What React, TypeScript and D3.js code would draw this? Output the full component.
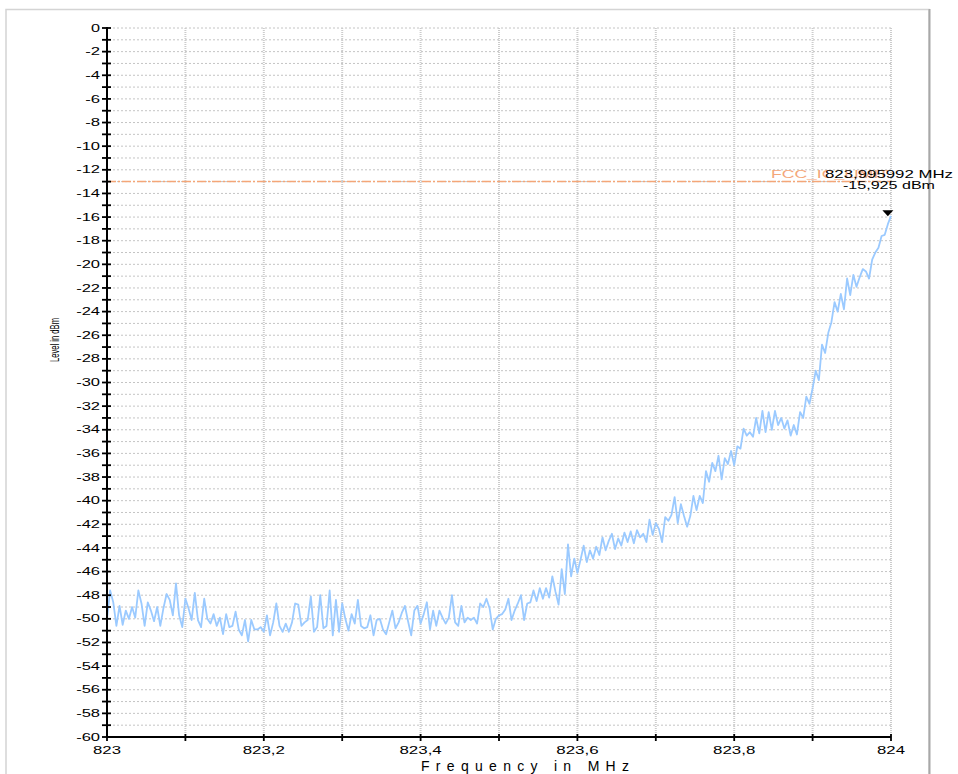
import React from "react";
import * as d3 from "d3";

// Sweep definition (spectrum analyzer trace points are evenly spaced in frequency)
const SWEEP_START_MHZ = 823;
const SWEEP_STOP_MHZ = 824;

// Trace levels in dBm (251 sweep points)
const levelDbm: number[] = [
  -50.0, -47.6, -48.6, -50.6, -48.9, -50.5, -49.3, -50.0, -49.0, -49.9,
  -47.6, -48.7, -50.6, -48.6, -49.3, -50.2, -49.0, -50.6, -49.1, -47.9,
  -48.4, -49.7, -47.0, -49.7, -50.7, -48.3, -49.1, -50.1, -47.8, -50.1,
  -50.7, -48.3, -50.0, -50.4, -49.6, -50.6, -49.9, -51.3, -49.6, -50.7,
  -50.6, -49.4, -50.9, -51.4, -50.1, -51.9, -50.1, -50.9, -50.9, -50.7,
  -51.1, -49.7, -51.4, -50.3, -48.7, -50.6, -51.1, -50.4, -51.1, -50.3,
  -48.7, -48.8, -50.6, -50.3, -50.1, -48.1, -51.1, -50.7, -48.0, -50.8,
  -50.6, -47.6, -51.4, -48.4, -51.1, -48.7, -50.0, -51.0, -49.6, -50.4,
  -48.4, -50.6, -50.8, -50.7, -49.7, -51.4, -50.1, -50.0, -50.9, -51.3,
  -50.3, -49.3, -50.8, -50.3, -49.5, -48.9, -50.2, -51.4, -49.3, -48.9,
  -50.4, -49.6, -48.6, -50.9, -49.3, -50.6, -49.3, -49.9, -50.4, -49.9,
  -48.0, -50.3, -50.6, -48.9, -50.3, -49.9, -50.1, -49.9, -50.4, -48.7,
  -49.0, -48.3, -49.1, -50.9, -50.0, -49.7, -49.6, -49.2, -48.3, -50.1,
  -49.3, -48.7, -48.0, -50.1, -48.7, -48.6, -47.6, -48.5, -47.4, -48.3,
  -47.4, -48.2, -46.4, -47.7, -48.8, -45.8, -47.9, -43.7, -46.4, -44.9,
  -46.1, -45.0, -43.8, -45.2, -44.2, -44.9, -43.9, -44.6, -43.1, -44.2,
  -43.4, -42.8, -44.1, -43.2, -43.8, -42.7, -43.5, -42.6, -43.6, -42.5,
  -43.1, -42.8, -43.5, -41.6, -42.9, -41.9, -42.4, -43.5, -41.4, -41.7,
  -41.2, -39.7, -41.9, -40.3, -41.3, -42.2, -41.3, -39.6, -40.8, -39.6,
  -40.2, -37.5, -38.4, -36.8, -37.5, -36.2, -38.2, -36.4, -36.9, -35.8,
  -37.0, -35.4, -35.6, -33.9, -34.5, -34.2, -34.6, -33.0, -34.3, -32.4,
  -34.2, -32.5, -34.0, -32.4, -33.6, -33.0, -33.9, -33.2, -34.5, -33.6,
  -34.4, -32.5, -33.0, -31.2, -31.8, -30.5, -29.0, -29.8, -26.8, -27.5,
  -25.8, -24.9, -23.2, -24.0, -22.5, -23.8, -21.2, -22.6, -20.9, -21.9,
  -21.1, -20.4, -20.6, -21.2, -19.6, -19.0, -18.6, -17.6, -17.5, -16.6,
  -15.9,
];

const xTickValues = [823, 823.1, 823.2, 823.3, 823.4, 823.5, 823.6, 823.7, 823.8, 823.9, 824];
const xLabelValues = [823, 823.2, 823.4, 823.6, 823.8, 824];
const yMinorTicks = d3.range(0, -61, -1);
const yLabelValues = d3.range(0, -61, -2);

const LIMIT_LEVEL = -13;
const LIMIT_NAME = "FCC_IC_LIMIT";
const MARKER_FREQ = 823.995992;
const MARKER_LEVEL = -15.925;
const MARKER_LINE1 = "823,995992 MHz";
const MARKER_LINE2 = "-15,925 dBm";
const X_TITLE = "Frequency in MHz";
const Y_TITLE = "Level in dBm";

const FONT = "'Liberation Sans', Arial, Helvetica, sans-serif";

function textWidth(s: string, digit: number): number {
  let w = 0;
  for (const c of s) {
    if (c >= "0" && c <= "9") w += digit;
    else if (c === ",") w += digit * 0.55;
    else if (c === "-") w += digit * 0.65;
    else if (c === " ") w += digit * 0.5;
    else w += digit * 1.05;
  }
  return w;
}

const fmt = (v: number) => String(+v.toFixed(1)).replace(".", ",");

export default function App() {
  const W = 958;
  const H = 774;
  const x = d3.scaleLinear().domain([SWEEP_START_MHZ, SWEEP_STOP_MHZ]).range([107, 891]);
  const y = d3.scaleLinear().domain([0, -60]).range([28, 737]);

  const n = levelDbm.length;
  const step = (SWEEP_STOP_MHZ - SWEEP_START_MHZ) / (n - 1);
  const points: [number, number][] = levelDbm.map((v, i) => [SWEEP_START_MHZ + i * step, v]);
  const line = d3
    .line<[number, number]>()
    .x((d) => x(d[0]))
    .y((d) => y(d[1]));

  const [x0, x1] = x.range();
  const [y0, y1] = y.range();
  const mx = x(MARKER_FREQ);
  const my = y(MARKER_LEVEL);
  const ly = y(LIMIT_LEVEL);

  return (
    <svg
      width={W}
      height={H}
      style={{ position: "absolute", left: 0, top: 0, background: "#fff" }}
      fontFamily={FONT}
    >
      {/* frame */}
      <rect x={6} y={9.5} width={923} height={800} fill="none" stroke="#d4d4d4" strokeWidth={1.5} />
      <line x1={929.5} x2={929.5} y1={9} y2={H} stroke="#a8a8a8" strokeWidth={2} />

      {/* horizontal grid */}
      {yMinorTicks.map((v) => (
        <line
          key={"hg" + v}
          x1={x0 + 2}
          x2={x1}
          y1={y(v)}
          y2={y(v)}
          stroke="#c4c4c4"
          strokeWidth={1}
          strokeDasharray="2,2"
        />
      ))}
      {/* vertical grid */}
      {xTickValues.slice(1).map((v) => (
        <line
          key={"vg" + v}
          x1={x(v)}
          x2={x(v)}
          y1={y0}
          y2={y1}
          stroke="#cccccc"
          strokeWidth={2}
          strokeDasharray="1,1"
        />
      ))}

      {/* limit line */}
      <line
        x1={x0}
        x2={x1}
        y1={ly}
        y2={ly}
        stroke="#f4a678"
        strokeWidth={1.5}
        strokeDasharray="9,2,2,2"
      />

      {/* trace */}
      <path d={line(points) || ""} fill="none" stroke="#9bcaff" strokeWidth={1.8} strokeLinejoin="round" />

      {/* y axis */}
      <line x1={x0} x2={x0} y1={y0 - 1} y2={y1} stroke="#000" strokeWidth={2} />
      {yMinorTicks.map((v) => (
        <line key={"yt" + v} x1={x0 - 5} x2={x0 + 4} y1={y(v)} y2={y(v)} stroke="#000" strokeWidth={1.8} />
      ))}
      {yLabelValues.map((v) => {
        const s = String(v);
        return (
          <text
            key={"yl" + v}
            x={100}
            y={y(v)}
            dy="0.36em"
            fontSize={10}
            textAnchor="end"
            textLength={textWidth(s, 9)}
            lengthAdjust="spacingAndGlyphs"
            fill="#000"
          >
            {s}
          </text>
        );
      })}

      {/* x axis */}
      <line x1={x0} x2={x1} y1={y1} y2={y1} stroke="#000" strokeWidth={1.8} />
      {xTickValues.map((v) => (
        <line key={"xt" + v} x1={x(v)} x2={x(v)} y1={y1 - 3} y2={y1 + 4} stroke="#000" strokeWidth={1.8} />
      ))}
      {xLabelValues.map((v) => {
        const s = fmt(v);
        return (
          <text
            key={"xl" + v}
            x={x(v)}
            y={754}
            fontSize={10}
            textAnchor="middle"
            textLength={textWidth(s, 9.3)}
            lengthAdjust="spacingAndGlyphs"
            fill="#000"
          >
            {s}
          </text>
        );
      })}

      {/* axis titles */}
      <text
        x={525}
        y={771}
        fontSize={14}
        textAnchor="middle"
        textLength={208}
        lengthAdjust="spacing"
        fill="#000"
      >
        {X_TITLE}
      </text>
      <text
        transform={`translate(59,340) rotate(-90)`}
        fontSize={12.5}
        textAnchor="middle"
        textLength={44}
        lengthAdjust="spacingAndGlyphs"
        fill="#000"
      >
        {Y_TITLE}
      </text>

      {/* limit label */}
      <text
        x={771}
        y={177.5}
        fontSize={10}
        textLength={118}
        lengthAdjust="spacingAndGlyphs"
        fill="#f4a678"
      >
        {LIMIT_NAME}
      </text>

      {/* marker */}
      <text
        x={889}
        y={177.5}
        fontSize={10.5}
        textAnchor="middle"
        textLength={128}
        lengthAdjust="spacingAndGlyphs"
        fill="#000"
      >
        {MARKER_LINE1}
      </text>
      <text
        x={889}
        y={188.5}
        fontSize={10.5}
        textAnchor="middle"
        textLength={92}
        lengthAdjust="spacingAndGlyphs"
        fill="#000"
      >
        {MARKER_LINE2}
      </text>
      <path d={`M${mx - 5.5},${my - 6} L${mx + 5.5},${my - 6} L${mx},${my} Z`} fill="#000" />
    </svg>
  );
}
